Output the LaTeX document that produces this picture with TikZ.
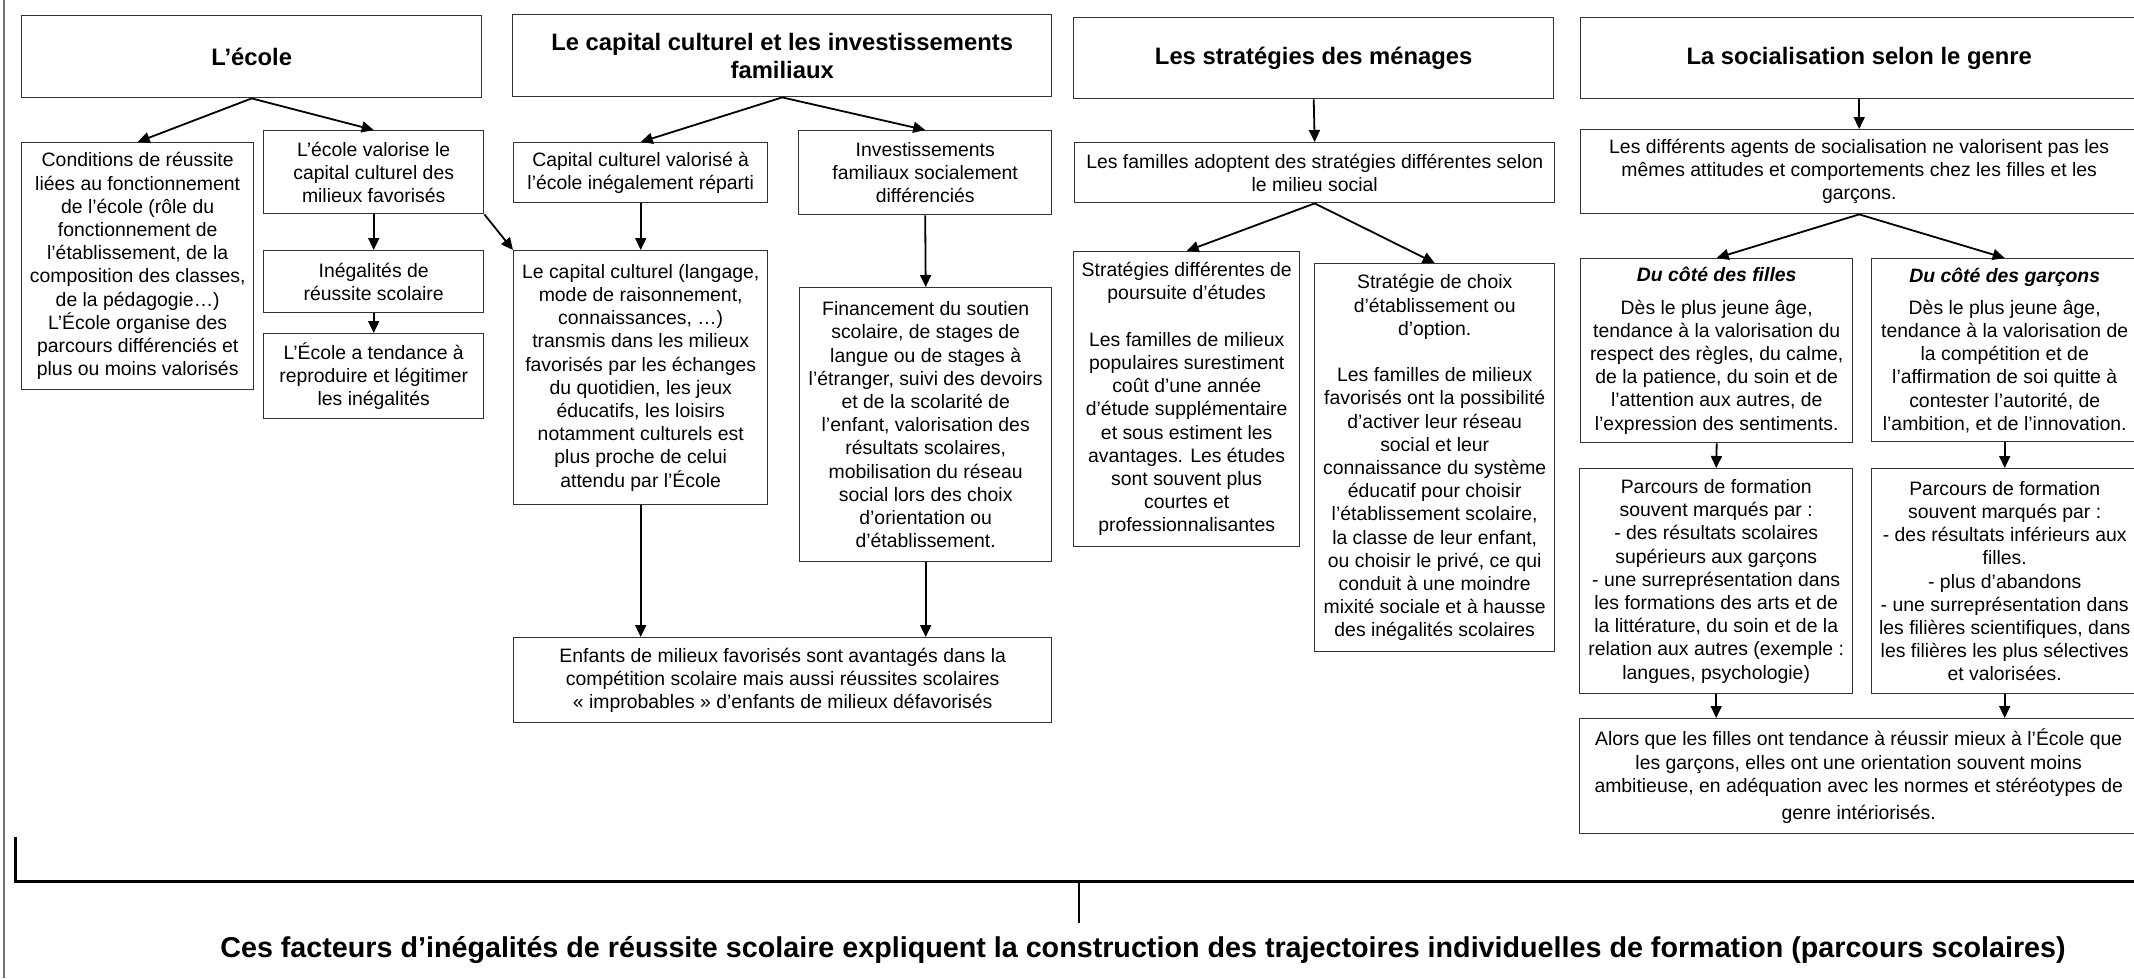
\documentclass[tikz,border=0pt]{standalone}
\usepackage{fontspec}
\setmainfont{Liberation Sans}
\usetikzlibrary{arrows.meta,calc}
\begin{document}
\begin{tikzpicture}[x=1pt,y=-1pt,
  box/.style={draw=black!80, line width=1.4pt, anchor=north west, align=center, inner sep=0pt,
    font=\fontsize{19.4}{23.2}\selectfont},
  ttl/.style={box, font=\bfseries\fontsize{23.8}{28}\selectfont},
  arr/.style={line width=1.8pt, -{Triangle[length=12pt,width=11pt]}},
  bracket/.style={line width=3pt},
]
\useasboundingbox (0,0) rectangle (2134,978);
\clip (0,0) rectangle (2134,978);
\fill[white] (0,0) rectangle (2134,978);
\draw[black!55, line width=1.5pt] (4,0) -- (4,978);

% Column 1
\node[ttl, minimum width=460pt, minimum height=82pt] (ecole) at (21,15) {L’école};
\node[box, minimum width=232pt, minimum height=247pt] (cond) at (21,142) {Conditions de réussite\\ liées au fonctionnement\\ de l’école (rôle du\\ fonctionnement de\\ l’établissement, de la\\ composition des classes,\\ de la pédagogie…)\\ L’École organise des\\ parcours différenciés et\\ plus ou moins valorisés};
\node[box, minimum width=220pt, minimum height=83pt] (valor) at (263,130) {L’école valorise le\\ capital culturel des\\ milieux favorisés};
\node[box, minimum width=220pt, minimum height=62pt] (ineg) at (263,250) {Inégalités de\\ réussite scolaire};
\node[box, minimum width=220pt, minimum height=85pt] (tend) at (263,333) {L’École a tendance à\\ reproduire et légitimer\\ les inégalités};

% Column 2
\node[ttl, minimum width=539pt, minimum height=82pt] (capt) at (512,14) {Le capital culturel et les investissements\\ familiaux};
\node[box, minimum width=254pt, minimum height=60pt] (capval) at (513,142) {Capital culturel valorisé à\\ l’école inégalement réparti};
\node[box, minimum width=253pt, minimum height=84pt] (invest) at (798,130) {Investissements\\ familiaux socialement\\ différenciés};
\node[box, minimum width=254pt, minimum height=254pt] (capcult) at (513,250) {Le capital culturel (langage,\\ mode de raisonnement,\\ connaissances, …)\\ transmis dans les milieux\\ favorisés par les échanges\\ du quotidien, les jeux\\ éducatifs, les loisirs\\ notamment culturels est\\ plus proche de celui\\ attendu par l’École};
\node[box, minimum width=252pt, minimum height=274pt] (fin) at (799,287) {Financement du soutien\\ scolaire, de stages de\\ langue ou de stages à\\ l’étranger, suivi des devoirs\\ et de la scolarité de\\ l’enfant, valorisation des\\ résultats scolaires,\\ mobilisation du réseau\\ social lors des choix\\ d’orientation ou\\ d’établissement.};
\node[box, minimum width=538pt, minimum height=85pt] (enf) at (513,637) {Enfants de milieux favorisés sont avantagés dans la\\ compétition scolaire mais aussi réussites scolaires\\ « improbables » d'enfants de milieux défavorisés};

% Column 3
\node[ttl, minimum width=480pt, minimum height=81pt] (strt) at (1073,17) {Les stratégies des ménages};
\node[box, minimum width=480pt, minimum height=60pt] (fam) at (1074,142) {Les familles adoptent des stratégies différentes selon\\ le milieu social};
\node[box, minimum width=226pt, minimum height=295pt] (sdiff) at (1073,251) {Stratégies différentes de\\ poursuite d’études\\[23.2pt] Les familles de milieux\\ populaires surestiment\\ coût d’une année\\ d’étude supplémentaire\\ et sous estiment les\\ avantages. Les études\\ sont souvent plus\\ courtes et\\ professionnalisantes};
\node[box, minimum width=240pt, minimum height=388pt] (schoix) at (1314,263) {Stratégie de choix\\ d’établissement ou\\ d’option.\\[23.2pt] Les familles de milieux\\ favorisés ont la possibilité\\ d’activer leur réseau\\ social et leur\\ connaissance du système\\ éducatif pour choisir\\ l’établissement scolaire,\\ la classe de leur enfant,\\ ou choisir le privé, ce qui\\ conduit à une moindre\\ mixité sociale et à hausse\\ des inégalités scolaires};

% Column 4
\node[ttl, minimum width=557pt, minimum height=81pt] (soct) at (1580,17) {La socialisation selon le genre};
\node[box, minimum width=557pt, minimum height=84pt] (agents) at (1580,129) {Les différents agents de socialisation ne valorisent pas les\\ mêmes attitudes et comportements chez les filles et les\\ garçons.};
\node[box, minimum width=272pt, minimum height=184pt] (filles) at (1580,258) {\textbf{\textit{Du côté des filles}}\\[9pt] Dès le plus jeune âge,\\ tendance à la valorisation du\\ respect des règles, du calme,\\ de la patience, du soin et de\\ l’attention aux autres, de\\ l’expression des sentiments.};
\node[box, minimum width=266pt, minimum height=183pt] (garcons) at (1871,258) {\textbf{\textit{Du côté des garçons}}\\[9pt] Dès le plus jeune âge,\\ tendance à la valorisation de\\ la compétition et de\\ l’affirmation de soi quitte à\\ contester l’autorité, de\\ l’ambition, et de l’innovation.};
\node[box, minimum width=273pt, minimum height=225pt] (parcf) at (1579,468) {Parcours de formation\\ souvent marqués par :\\ - des résultats scolaires\\ supérieurs aux garçons\\ - une surreprésentation dans\\ les formations des arts et de\\ la littérature, du soin et de la\\ relation aux autres (exemple :\\ langues, psychologie)};
\node[box, minimum width=266pt, minimum height=225pt] (parcg) at (1871,468) {Parcours de formation\\ souvent marqués par :\\ - des résultats inférieurs aux\\ filles.\\ - plus d’abandons\\ - une surreprésentation dans\\ les filières scientifiques, dans\\ les filières les plus sélectives\\ et valorisées.};
\node[box, minimum width=558pt, minimum height=115pt] (alors) at (1579,718) {Alors que les filles ont tendance à réussir mieux à l’École que\\ les garçons, elles ont une orientation souvent moins\\ ambitieuse, en adéquation avec les normes et stéréotypes de\\[4pt] genre intériorisés.};

% Arrows column 1
\draw[arr] (ecole.south) -- (cond.north);
\draw[arr] (ecole.south) -- (valor.north);
\draw[arr] (valor.south) -- (ineg.north);
\draw[arr] (ineg.south) -- (tend.north);
\draw[arr] (valor.south east) -- (capcult.north west);

% Arrows column 2
\draw[arr] (capt.south) -- (capval.north);
\draw[arr] (capt.south) -- (invest.north);
\draw[arr] (capval.south) -- (capcult.north);
\draw[arr] (invest.south) -- (fin.north);
\draw[arr] (capcult.south) -- (capcult.south |- enf.north);
\draw[arr] (fin.south) -- (fin.south |- enf.north);

% Arrows column 3
\draw[arr] (strt.south) -- (fam.north);
\draw[arr] (fam.south) -- (sdiff.north);
\draw[arr] (fam.south) -- (schoix.north);

% Arrows column 4
\draw[arr] (soct.south) -- (agents.north);
\draw[arr] (agents.south) -- (filles.north);
\draw[arr] (agents.south) -- (garcons.north);
\draw[arr] (filles.south) -- (parcf.north);
\draw[arr] (garcons.south) -- (garcons.south |- parcg.north);
\draw[arr] (parcf.south) -- (parcf.south |- alors.north);
\draw[arr] (parcg.south) -- (parcg.south |- alors.north);

% Bracket and conclusion
\coordinate (bl) at (15,837);
\coordinate (br) at (2140,881);
\coordinate (tk) at (1079,881);
\coordinate (tkend) at (1079,923);
\draw[bracket] (bl) |- (br);
\draw[line width=2pt] (tk) -- (tkend);
\node[anchor=base, inner sep=0pt, font=\bfseries\fontsize{28.7}{34}\selectfont] (concl) at (1143,957) {Ces facteurs d’inégalités de réussite scolaire expliquent la construction des trajectoires individuelles de formation (parcours scolaires)};
\end{tikzpicture}
\end{document}
